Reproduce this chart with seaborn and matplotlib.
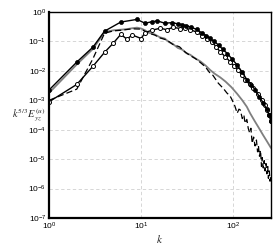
import matplotlib
matplotlib.use("Agg")
import matplotlib.pyplot as plt
import matplotlib.ticker as mticker
import numpy as np
import pandas as pd
import seaborn as sns

# log10 of compensated spectra
k_filled = [1, 2, 3, 4, 6, 9, 11, 13, 15, 18, 21.6, 25, 28, 31, 35, 40, 46, 51, 56,
            62, 69, 77, 86, 97, 110, 125, 141, 157, 173, 192, 212, 230, 245, 256]
v_filled = [-2.65, -1.70, -1.19, -0.65, -0.34, -0.25, -0.38, -0.33, -0.30, -0.38,
            -0.36, -0.40, -0.43, -0.46, -0.52, -0.59, -0.72, -0.80, -0.89, -1.00,
            -1.12, -1.27, -1.41, -1.60, -1.80, -2.05, -2.31, -2.48, -2.65, -2.88,
            -3.10, -3.30, -3.50, -3.70]

k_open = [1, 2, 3, 4, 5, 6, 7, 8, 10, 11, 13, 16, 19, 22, 26.6, 30, 34, 40, 46, 52,
          58.6, 65, 72, 82, 92.5, 102, 113, 124, 134, 150, 165, 185, 205, 220, 232,
          245, 256]
v_open = [-3.05, -2.46, -1.84, -1.37, -1.05, -0.76, -0.92, -0.78, -0.90, -0.70,
          -0.62, -0.55, -0.60, -0.52, -0.56, -0.53, -0.60, -0.68, -0.80, -0.90,
          -1.01, -1.18, -1.35, -1.52, -1.69, -1.84, -1.97, -2.15, -2.31, -2.45,
          -2.59, -2.80, -2.99, -3.15, -3.33, -3.50, -3.72]

k_gray = [1, 2, 3, 4, 5, 6, 7, 8, 9, 10, 11, 12, 14, 16, 18, 20, 22, 25, 28, 31, 34,
          38, 44, 50, 56, 63, 72, 82, 95, 110, 125, 140, 152, 170, 190, 210, 230, 256]
v_gray = [-2.75, -1.78, -1.25, -0.68, -0.62, -0.60, -0.58, -0.55, -0.53, -0.56,
          -0.62, -0.70, -0.76, -0.86, -0.90, -1.02, -1.08, -1.22, -1.28, -1.40,
          -1.45, -1.56, -1.68, -1.82, -1.97, -2.10, -2.22, -2.36, -2.55, -2.78,
          -3.00, -3.22, -3.44, -3.70, -3.95, -4.18, -4.38, -4.62]

k_dash = [1, 2, 3, 4, 5, 6, 8, 10, 12, 14, 16, 19, 22, 26, 30, 34, 38.7, 44, 49.6,
          55, 60, 68.7, 78, 85, 92, 97, 104, 110, 115, 119, 125, 130, 134, 140, 145,
          150, 155, 160, 166, 172, 178, 183, 187, 192, 197, 202, 206, 211, 216, 221,
          226, 231, 236, 240, 245, 250, 256]
v_dash = [-3.00, -2.62, -1.58, -0.72, -0.64, -0.62, -0.57, -0.58, -0.72, -0.78,
          -0.88, -0.95, -1.10, -1.18, -1.36, -1.48, -1.58, -1.72, -1.86, -2.05,
          -2.15, -2.42, -2.60, -2.75, -2.85, -2.99, -3.20, -3.44, -3.30, -3.33,
          -3.62, -3.50, -3.78, -3.65, -3.95, -4.10, -3.95, -4.46, -4.25, -4.55,
          -4.35, -4.75, -4.55, -4.90, -4.70, -5.25, -4.95, -5.30, -5.05, -5.40,
          -5.15, -5.50, -5.25, -5.65, -5.40, -5.75, -5.55]

sns.set_style("white")
plt.rcParams["font.family"] = ["Liberation Sans", "DejaVu Sans"]
plt.rcParams["mathtext.fontset"] = "stix"

fig = plt.figure(figsize=(2.74, 2.44), dpi=100)
ax = fig.add_axes([0.179, 0.1066, 0.81, 0.844])


def frame(k, v):
    return pd.DataFrame({"k": k, "E": np.power(10.0, v)})


sns.lineplot(data=frame(k_gray, v_gray), x="k", y="E", ax=ax, color="#7f7f7f",
             lw=1.3, estimator=None, sort=False)
sns.lineplot(data=frame(k_dash, v_dash), x="k", y="E", ax=ax, color="black",
             lw=0.9, estimator=None, sort=False)
ax.lines[-1].set_dashes((5, 2.5))
sns.lineplot(data=frame(k_open, v_open), x="k", y="E", ax=ax, color="black",
             lw=1.0, estimator=None, sort=False, marker="o", markersize=2.9,
             markerfacecolor="white", markeredgecolor="black", markeredgewidth=0.7)
sns.lineplot(data=frame(k_filled, v_filled), x="k", y="E", ax=ax, color="black",
             lw=1.0, estimator=None, sort=False, marker="o", markersize=2.9,
             markerfacecolor="black", markeredgecolor="black", markeredgewidth=0.5)

ax.set_xscale("log")
ax.set_yscale("log")
ax.set_xlim(1, 256)
ax.set_ylim(1e-7, 1)

ax.yaxis.set_major_locator(mticker.LogLocator(base=10, numticks=10))
ax.yaxis.set_minor_locator(mticker.LogLocator(base=10, subs=np.arange(2, 10), numticks=20))
ax.xaxis.set_minor_locator(mticker.LogLocator(base=10, subs=np.arange(2, 10), numticks=20))
ax.xaxis.set_minor_formatter(mticker.NullFormatter())
ax.yaxis.set_minor_formatter(mticker.NullFormatter())

ax.grid(True, which="major", color="#d0d0d0", ls=(0, (4, 3)), lw=0.6)
ax.tick_params(which="both", direction="in", top=False, right=False,
               labelsize=6, pad=2, colors="black")
ax.tick_params(which="major", length=4, width=1.0)
ax.tick_params(which="minor", length=2, width=0.6)

for s in ax.spines.values():
    s.set_color("black")
    s.set_linewidth(1.0)
ax.spines["left"].set_linewidth(1.6)
ax.spines["bottom"].set_linewidth(1.6)

ax.set_xlabel("$k$", fontsize=8)
ax.xaxis.set_label_coords(0.5, -0.075)
ax.xaxis.label.set_va("top")
ax.set_ylabel(r"$k^{5/3}E_{yz}^{(u)}$", fontsize=7.5, rotation=0,
              ha="right", va="center")
ax.yaxis.set_label_coords(-0.015, 0.5)

fig.savefig("out.png", dpi=100)
